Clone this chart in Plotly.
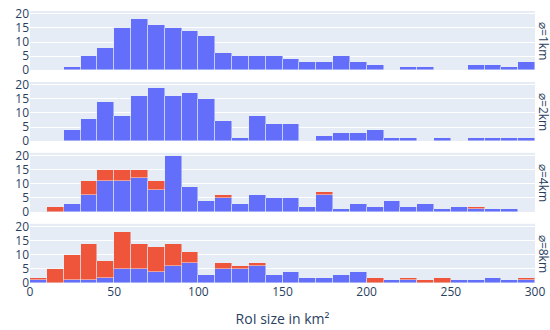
import plotly.graph_objects as go
from plotly.subplots import make_subplots

bin_starts = list(range(0, 300, 10))
row_labels = ["⌀=1km", "⌀=2km", "⌀=4km", "⌀=8km"]

blue_1km = [0, 0, 1, 5, 8, 15, 18, 16, 15, 14, 12, 6, 5, 5, 5, 4, 3, 3, 5, 3, 2, 0, 1, 1, 0, 0, 2, 2, 1, 3]
red_1km = [0] * 30
blue_2km = [0, 0, 4, 8, 14, 9, 16, 19, 16, 17, 15, 7, 1, 9, 6, 6, 0, 2, 3, 3, 4, 1, 1, 0, 1, 0, 1, 1, 1, 1]
red_2km = [0] * 30
blue_4km = [0, 0, 3, 6, 11, 11, 12, 8, 20, 9, 4, 5, 3, 6, 5, 5, 2, 6, 1, 3, 2, 4, 2, 3, 1, 2, 1, 1, 1, 0]
red_4km = [0, 2, 0, 5, 4, 4, 3, 3, 0, 0, 0, 1, 0, 0, 0, 0, 0, 1, 0, 0, 0, 0, 0, 0, 0, 0, 1, 0, 0, 0]
blue_8km = [1, 0, 1, 1, 2, 5, 5, 4, 6, 7, 3, 5, 5, 6, 3, 4, 2, 2, 3, 4, 0, 1, 1, 0, 0, 1, 1, 2, 1, 1]
red_8km = [1, 5, 9, 13, 6, 13, 9, 9, 8, 4, 0, 2, 1, 1, 0, 0, 0, 0, 0, 0, 2, 0, 1, 1, 2, 0, 0, 0, 0, 1]

blues = [blue_1km, blue_2km, blue_4km, blue_8km]
reds = [red_1km, red_2km, red_4km, red_8km]

fig = make_subplots(rows=4, cols=1, shared_xaxes=True, vertical_spacing=0.043)

for i in range(4):
    fig.add_trace(go.Bar(x=bin_starts, y=blues[i], width=10, offset=0,
                         marker_color="#636efa", showlegend=False), row=i + 1, col=1)
    fig.add_trace(go.Bar(x=bin_starts, y=reds[i], width=10, offset=0,
                         marker_color="#EF553B", showlegend=False), row=i + 1, col=1)
    fig.update_yaxes(range=[0, 21], tickvals=[0, 5, 10, 15, 20], row=i + 1, col=1)

fig.update_xaxes(range=[0, 300], tickvals=[0, 50, 100, 150, 200, 250, 300])
fig.update_xaxes(title_text="RoI size in km²", row=4, col=1)

fig.update_layout(
    template="plotly",
    barmode="stack",
    bargap=0,
    width=550, height=330,
    margin=dict(l=30, r=15, t=5, b=44),
    font=dict(family="Open Sans, sans-serif"),
    showlegend=False,
)

domains = [fig.layout.yaxis.domain, fig.layout.yaxis2.domain, fig.layout.yaxis3.domain, fig.layout.yaxis4.domain]
for lab, dom in zip(row_labels, domains):
    fig.add_annotation(text=lab, x=1.0, xref="paper", y=(dom[0] + dom[1]) / 2, yref="paper",
                       xanchor="left", yanchor="middle", textangle=90, showarrow=False,
                       xshift=-2, font=dict(size=12))

fig.write_html("out.html", config={"displayModeBar": False},
               post_script="document.body.style.margin='0';")
